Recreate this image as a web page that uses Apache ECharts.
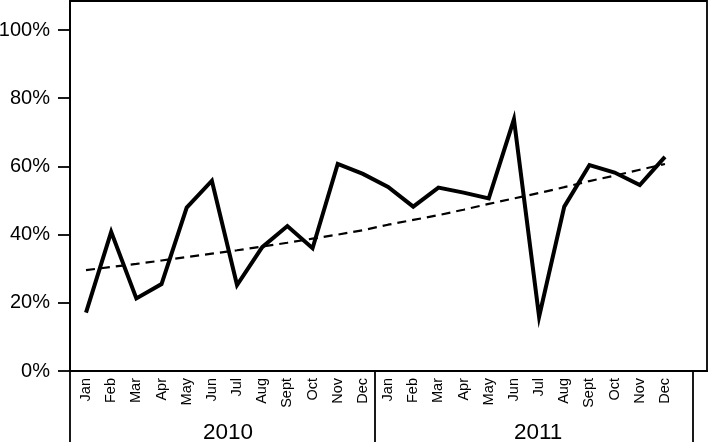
<!DOCTYPE html>
<html>
<head>
<meta charset="utf-8">
<script src="https://cdn.jsdelivr.net/npm/echarts@6/dist/echarts.min.js"></script>
<style>
  html, body { margin: 0; padding: 0; background: #fff; }
  #chart { width: 710px; height: 442px; }
</style>
</head>
<body>
<div id="chart"></div>
<script>
// ---- data ----
const months = ['Jan','Feb','Mar','Apr','May','Jun','Jul','Aug','Sept','Oct','Nov','Dec',
                'Jan','Feb','Mar','Apr','May','Jun','Jul','Aug','Sept','Oct','Nov','Dec'];
const values = [17.1, 40.8, 21.3, 25.5, 47.9, 55.8, 25.2, 36.3, 42.5, 36.0, 60.7, 57.8,
                54.0, 48.2, 53.8, 52.3, 50.6, 73.8, 15.9, 48.2, 60.4, 58.2, 54.5, 62.8];
const trend = [29.6, 30.5, 31.4, 32.4, 33.4, 34.4, 35.4, 36.5, 37.6, 38.8, 40.0, 41.3,
               42.9, 44.3, 45.7, 47.3, 49.0, 50.6, 52.2, 53.9, 55.7, 57.3, 59.0, 60.7];
const years = ['2010', '2011'];
const yearLabelPos = [5.64, 17.96];
const yearSeparators = [-0.636, 11.48, 24.11];
const yTicks = [0, 20, 40, 60, 80, 100];

const X_MIN = -0.636, X_MAX = 24.67;
const FONT = '"Liberation Sans", Arial, Helvetica, sans-serif';

const chart = echarts.init(document.getElementById('chart'), null, { renderer: 'canvas' });
const monthIdx = months.map((m, i) => i);

chart.setOption({
  animation: false,
  backgroundColor: '#fff',
  grid: { left: 70, top: 1, right: 3, bottom: 71, show: true, borderColor: '#000', borderWidth: 1.8,
          containLabel: false, outerBoundsMode: 'none' },
  xAxis: [
    {
      type: 'value', min: X_MIN, max: X_MAX,
      axisLine: { show: true, onZero: false, lineStyle: { color: '#000', width: 1.8 } },
      axisTick: { show: false },
      splitLine: { show: false },
      axisLabel: {
        customValues: monthIdx,
        rotate: 90, margin: 7, color: '#000', fontSize: 14.5, fontFamily: FONT,
        formatter: v => months[Math.round(v)]
      }
    },
    {
      type: 'value', min: X_MIN, max: X_MAX, position: 'bottom', offset: 0,
      axisLine: { show: false, onZero: false },
      axisTick: { show: true, customValues: yearSeparators, length: 71, inside: false,
                  lineStyle: { color: '#000', width: 1.8 } },
      splitLine: { show: false },
      axisLabel: {
        customValues: yearLabelPos, margin: 50, color: '#000', fontSize: 22.5, fontFamily: FONT,
        formatter: v => years[yearLabelPos.indexOf(v)]
      }
    }
  ],
  yAxis: {
    type: 'value', min: 0, max: 108.5,
    axisLine: { show: true, onZero: false, lineStyle: { color: '#000', width: 1.8 } },
    axisTick: { show: true, customValues: yTicks, length: 12, lineStyle: { color: '#000', width: 1.8 } },
    splitLine: { show: false },
    axisLabel: { customValues: yTicks, margin: 20, color: '#000', fontSize: 20, fontFamily: FONT,
                 formatter: v => v + '%' }
  },
  series: [
    {
      type: 'line', xAxisIndex: 0,
      data: values.map((v, i) => [i, v]),
      showSymbol: false, symbol: 'none',
      lineStyle: { color: '#000', width: 4, join: 'miter', cap: 'butt' }
    },
    {
      type: 'line', xAxisIndex: 0,
      data: trend.map((v, i) => [i, v]),
      showSymbol: false, symbol: 'none',
      lineStyle: { color: '#000', width: 2.2, type: [9, 6] }
    }
  ]
});
</script>
</body>
</html>
